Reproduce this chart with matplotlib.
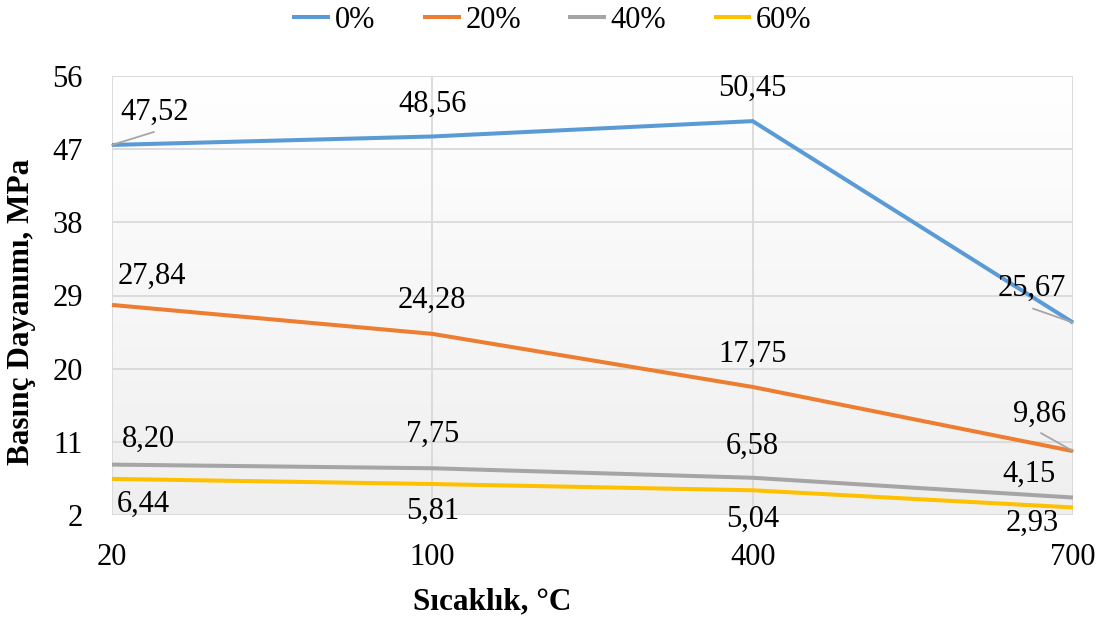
import numpy as np
import matplotlib
matplotlib.use("Agg")
import matplotlib.pyplot as plt
from matplotlib.colors import LinearSegmentedColormap

plt.rcParams["font.family"] = ["Liberation Serif", "DejaVu Serif"]

# Data
temperatures = ["20", "100", "400", "700"]
series_names = ["0%", "20%", "40%", "60%"]
strength_0 = [47.52, 48.56, 50.45, 25.67]
strength_20 = [27.84, 24.28, 17.75, 9.86]
strength_40 = [8.20, 7.75, 6.58, 4.15]
strength_60 = [6.44, 5.81, 5.04, 2.93]
y_ticks = [2, 11, 20, 29, 38, 47, 56]

colors = ["#5B9BD5", "#ED7D31", "#A5A5A5", "#FFC000"]

# Label placement: offsets of the label's text centre from its point, in pixels
# (x to the right, y downward); None means no leader line.
label_offsets = [
    [(43, -35), (0, -35), (0, -35), (-41, -37)],
    [(40, -31), (0, -36), (0, -35), (-33, -39)],
    [(36, -28), (0, -36), (0, -34), (-44, -26)],
    [(31, 23), (0, 25), (0, 27), (-41, 13)],
]
leader_ends = [
    [(42, -13), None, None, (-40, -14)],
    [None, None, None, (-32, -18)],
    [None, None, None, None],
    [None, None, None, None],
]

W, H = 1102, 620
fig = plt.figure(figsize=(W / 100, H / 100), dpi=100)
left, right, top, bottom = 112, 1073, 76, 515
ax = fig.add_axes([left / W, 1 - bottom / H, (right - left) / W, (bottom - top) / H])

# Plot-area gradient: white at top, light grey at bottom
grad = np.linspace(0, 1, 256).reshape(-1, 1)
cmap = LinearSegmentedColormap.from_list("bg", ["#ffffff", "#efefef"])
ax.imshow(grad, cmap=cmap, aspect="auto", extent=[0, 1, 0, 1],
          transform=ax.transAxes, zorder=0, origin="upper")

x = np.arange(len(temperatures))
all_series = [strength_0, strength_20, strength_40, strength_60]

for name, vals, col in zip(series_names, all_series, colors):
    ax.plot(x, vals, color=col, lw=2.9, label=name, zorder=3,
            clip_on=False, solid_capstyle="butt", solid_joinstyle="miter")

px2pt = 0.72
for s, vals in enumerate(all_series):
    for i, v in enumerate(vals):
        dx, dy = label_offsets[s][i]
        txt = f"{v:.2f}".replace(".", ",")
        ax.annotate(txt, xy=(x[i], v), xytext=(dx * px2pt, -(dy + 10) * px2pt),
                    textcoords="offset points", ha="center", va="baseline",
                    fontsize=22, color="black", zorder=5, annotation_clip=False)
        end = leader_ends[s][i]
        if end is not None:
            ax.annotate("", xy=(x[i], v), xytext=(end[0] * px2pt, -end[1] * px2pt),
                        textcoords="offset points",
                        arrowprops=dict(arrowstyle="-", color="#A6A6A6", lw=1.3,
                                        shrinkA=0, shrinkB=0),
                        zorder=4, annotation_clip=False)

ax.set_xlim(0, len(temperatures) - 1)
ax.set_ylim(y_ticks[0], y_ticks[-1])
ax.set_xticks(x)
ax.set_xticklabels(temperatures)
ax.set_yticks(y_ticks)
ax.grid(True, color="#D9D9D9", lw=1.3, zorder=1)
ax.set_axisbelow(True)
for sp in ax.spines.values():
    sp.set_visible(False)
ax.tick_params(axis="x", length=0, pad=20, labelsize=22)
ax.tick_params(axis="y", length=0, pad=21, labelsize=22)

fig.text(22 / W, 1 - 312 / H, "Basınç Dayanımı, MPa", rotation=90,
         ha="center", va="center", fontsize=22.5, fontweight="bold")
fig.text(492 / W, 1 - 609 / H, "Sıcaklık, °C", ha="center", va="baseline",
         fontsize=22.5, fontweight="bold")

fig.legend(loc="center", bbox_to_anchor=(552 / W, 1 - 20 / H), ncol=4,
           frameon=False, fontsize=22, handlelength=1.24, handletextpad=0.15,
           columnspacing=1.55, borderpad=0, borderaxespad=0)

fig.savefig("out.png", dpi=100)
